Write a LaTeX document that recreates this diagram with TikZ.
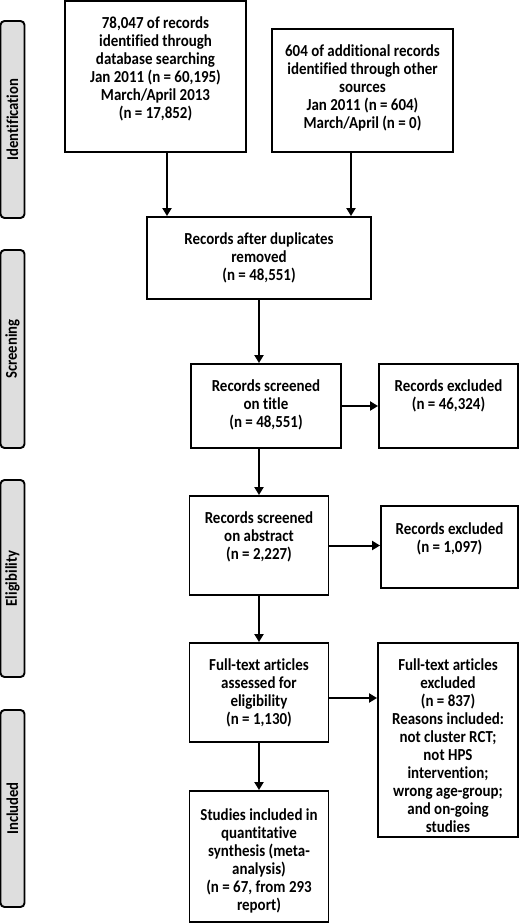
\documentclass[tikz,border=0pt]{standalone}
\usepackage{fontspec}
\setmainfont{Carlito}
\newfontfamily\bxfont[FakeStretch=0.89,Ligatures=NoCommon]{Carlito}
\usetikzlibrary{arrows.meta}
\definecolor{barfill}{HTML}{DEDEDE}
\begin{document}
\begin{tikzpicture}[x=1pt,y=-1pt,
  boxst/.style={draw=black,line width=1.9pt,rectangle,inner sep=0pt},
  txt/.style={anchor=north,inner sep=0pt,align=center,font=\bxfont\fontsize{16.8}{18}\selectfont\bfseries,execute at begin node=\strut},
  barst/.style={draw=black,fill=barfill,line width=1.9pt,rounded corners=4pt,inner sep=0pt},
  bartxt/.style={rotate=90,font=\bxfont\fontsize{16.5}{18}\selectfont\bfseries,inner sep=0pt},
  arr/.style={line width=2pt,-{Triangle[length=8pt,width=9pt]}}]
\useasboundingbox (0,0) rectangle (520,923);
% phase bars
\node[barst,minimum width=24pt,minimum height=197pt] (p1) at (12.5,119.5) {};
\node[bartxt] (p1t) at (p1.center) {Identification};
\node[barst,minimum width=24pt,minimum height=198pt] (p2) at (12.5,349) {};
\node[bartxt] (p2t) at (p2.center) {Screening};
\node[barst,minimum width=24pt,minimum height=197pt] (p3) at (12.5,578.5) {};
\node[bartxt] (p3t) at (p3.center) {Eligibility};
\node[barst,minimum width=24pt,minimum height=197pt] (p4) at (12.5,808.5) {};
\node[bartxt] (p4t) at (p4.center) {Included};
% boxes
\node[boxst,minimum width=181pt,minimum height=151pt] (b1) at (155.5,76.5) {};
\node[boxst,minimum width=181pt,minimum height=123pt] (b2) at (362.5,90.5) {};
\node[boxst,minimum width=224pt,minimum height=82pt] (b3) at (259,258) {};
\node[boxst,minimum width=150pt,minimum height=84pt] (b4) at (266,406) {};
\node[boxst,minimum width=139pt,minimum height=84pt] (b5) at (448.5,406) {};
\node[boxst,minimum width=139pt,minimum height=99pt] (b6) at (259,545.5) {};
\node[boxst,minimum width=137pt,minimum height=82pt] (b7) at (449.5,547) {};
\node[boxst,minimum width=139pt,minimum height=99pt] (b8) at (259,692.5) {};
\node[boxst,minimum width=140pt,minimum height=194pt] (b9) at (448,740) {};
\node[boxst,minimum width=139pt,minimum height=131pt] (b10) at (259,856.5) {};
% texts
\node[txt] (t1) at ([yshift=-16pt]b1.north) {78,047 of records\\identified through\\database searching\\Jan 2011 (n = 60,195)\\March/April 2013\\(n = 17,852)};
\node[txt] (t2) at ([yshift=-16pt]b2.north) {604 of additional records\\identified through other\\sources\\Jan 2011 (n = 604)\\March/April (n = 0)};
\node[txt] (t3) at ([yshift=-16pt]b3.north) {Records after duplicates\\removed\\(n = 48,551)};
\node[txt] (t4) at ([yshift=-16pt]b4.north) {Records screened\\on title\\(n = 48,551)};
\node[txt] (t5) at ([yshift=-16pt]b5.north) {Records excluded\\(n = 46,324)};
\node[txt] (t6) at ([yshift=-16pt]b6.north) {Records screened\\on abstract\\(n = 2,227)};
\node[txt] (t7) at ([yshift=-17pt]b7.north) {Records excluded\\(n = 1,097)};
\node[txt] (t8) at ([yshift=-16pt]b8.north) {Full-text articles\\assessed for\\eligibility\\(n = 1,130)};
\node[txt] (t9) at ([yshift=-16pt]b9.north) {Full-text articles\\excluded\\(n = 837)\\Reasons included:\\not cluster RCT;\\not HPS\\intervention;\\wrong age-group;\\and on-going\\studies};
\node[txt] (t10) at ([yshift=-18pt]b10.north) {Studies included in\\quantitative\\synthesis (meta-\\analysis)\\(n = 67, from 293\\report)};
% connectors
\draw[arr] ([xshift=11.5pt]b1.south) -- ([xshift=11.5pt]b1.south |- b3.north);
\draw[arr] ([xshift=-11.5pt]b2.south) -- ([xshift=-11.5pt]b2.south |- b3.north);
\draw[arr] (b3.south) -- (b3.south |- b4.north);
\draw[arr] (b4.east) -- (b4.east -| b5.west);
\draw[arr] (b6.north |- b4.south) -- (b6.north);
\draw[arr] (b6.east) -- (b6.east -| b7.west);
\draw[arr] (b6.south) -- (b8.north);
\draw[arr] ([yshift=-5.5pt]b8.east) -- ([yshift=-5.5pt]b8.east -| b9.west);
\draw[arr] (b8.south) -- (b10.north);
\end{tikzpicture}
\end{document}
